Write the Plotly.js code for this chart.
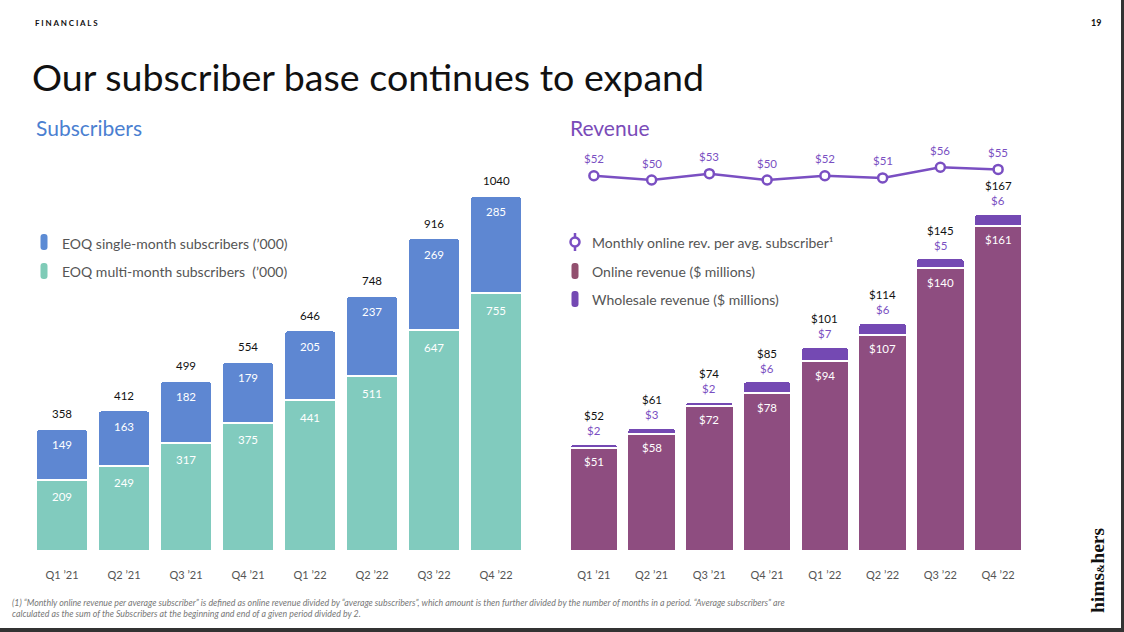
<!DOCTYPE html>
<html>
<head>
<meta charset="utf-8">
<script src="https://cdn.plot.ly/plotly-3.0.1.min.js"></script>
<style>
html,body{margin:0;padding:0;background:#fff;}
#chart{width:1124px;height:632px;}
</style>
</head>
<body>
<div id="chart"></div>
<script>
// ---- Data ----
const quarters = ["Q1 \u201921","Q2 \u201921","Q3 \u201921","Q4 \u201921","Q1 \u201922","Q2 \u201922","Q3 \u201922","Q4 \u201922"];
const multiMonth = [209, 249, 317, 375, 441, 511, 647, 755];
const singleMonth = [149, 163, 182, 179, 205, 237, 269, 285];
const subscriberTotals = [358, 412, 499, 554, 646, 748, 916, 1040];
const onlineRevenue = [51, 58, 72, 78, 94, 107, 140, 161];
const wholesaleRevenue = [2, 3, 2, 6, 7, 6, 5, 6];
const revenueTotals = [52, 61, 74, 85, 101, 114, 145, 167];
const revPerSub = [52, 50, 53, 50, 52, 51, 56, 55];

// ---- Styles ----
const FONT = "Lato, 'Open Sans', sans-serif";
const W = 1124, H = 632;
const px = v => v / W;
const py = v => 1 - v / H;
const BLUE = "#5e87d2", GREEN = "#81cbbe", ONLINE = "#8e4d80", WHOLESALE = "#7449b3", LINE = "#7a4fc2";

const traces = [
  {type:"bar", x:quarters, y:multiMonth, xaxis:"x", yaxis:"y", marker:{color:GREEN, line:{color:"#fff", width:2}}, hoverinfo:"skip"},
  {type:"bar", x:quarters, y:singleMonth, xaxis:"x", yaxis:"y", marker:{color:BLUE, line:{color:"#fff", width:2}}, hoverinfo:"skip"},
  {type:"bar", x:quarters, y:onlineRevenue, xaxis:"x2", yaxis:"y2", marker:{color:ONLINE, line:{color:"#fff", width:2}}, hoverinfo:"skip"},
  {type:"bar", x:quarters, y:wholesaleRevenue, xaxis:"x2", yaxis:"y2", marker:{color:WHOLESALE, line:{color:"#fff", width:2}}, hoverinfo:"skip"},
  {type:"scatter", mode:"lines+markers", x:quarters, y:revPerSub, xaxis:"x2", yaxis:"y3",
   line:{color:LINE, width:2.5}, marker:{size:9, color:"#fff", line:{color:LINE, width:2.5}}, hoverinfo:"skip"}
];

const annotations = [];
const lblFont = (c) => ({family:FONT, size:11.5, color:c});
quarters.forEach((q, i) => {
  annotations.push({xref:"x", yref:"y", x:q, y:subscriberTotals[i], yshift:15, text:String(subscriberTotals[i]), showarrow:false, font:lblFont("#111")});
  annotations.push({xref:"x", yref:"y", x:q, y:multiMonth[i]+singleMonth[i], yshift:-16, text:String(singleMonth[i]), showarrow:false, font:lblFont("#fff")});
  annotations.push({xref:"x", yref:"y", x:q, y:multiMonth[i], yshift:-17, text:String(multiMonth[i]), showarrow:false, font:lblFont("#fff")});
  const top = onlineRevenue[i] + wholesaleRevenue[i];
  annotations.push({xref:"x2", yref:"y2", x:q, y:top, yshift:28, text:"$"+revenueTotals[i], showarrow:false, font:lblFont("#111")});
  annotations.push({xref:"x2", yref:"y2", x:q, y:top, yshift:13, text:"$"+wholesaleRevenue[i], showarrow:false, font:lblFont(LINE)});
  annotations.push({xref:"x2", yref:"y2", x:q, y:onlineRevenue[i], yshift:-14, text:"$"+onlineRevenue[i], showarrow:false, font:lblFont("#fff")});
  annotations.push({xref:"x2", yref:"y3", x:q, y:revPerSub[i], yshift:17, text:"$"+revPerSub[i], showarrow:false, font:lblFont(LINE)});
});

// Page text
annotations.push(
  {xref:"paper", yref:"paper", x:px(33), y:py(23), xanchor:"left", yanchor:"middle", text:"<b>F I N A N C I A L S</b>", showarrow:false, font:{family:FONT, size:8, color:"#111"}},
  {xref:"paper", yref:"paper", x:px(1103), y:py(23), xanchor:"right", yanchor:"middle", text:"<b>19</b>", showarrow:false, font:{family:FONT, size:9, color:"#111"}},
  {xref:"paper", yref:"paper", x:px(30), y:py(77), xanchor:"left", yanchor:"middle", text:"Our subscriber base continues to expand", showarrow:false, font:{family:FONT, size:37.6, color:"#111"}},
  {xref:"paper", yref:"paper", x:px(34), y:py(128), xanchor:"left", yanchor:"middle", text:"Subscribers", showarrow:false, font:{family:FONT, size:21, color:"#4b7fd1"}},
  {xref:"paper", yref:"paper", x:px(568), y:py(128), xanchor:"left", yanchor:"middle", text:"Revenue", showarrow:false, font:{family:FONT, size:21, color:"#7a4bb8"}},
  {xref:"paper", yref:"paper", x:px(60), y:py(243), xanchor:"left", yanchor:"middle", text:"EOQ single-month subscribers (\u2019000)", showarrow:false, font:{family:FONT, size:14, color:"#555"}},
  {xref:"paper", yref:"paper", x:px(60), y:py(271), xanchor:"left", yanchor:"middle", text:"EOQ multi-month subscribers  (\u2019000)", showarrow:false, font:{family:FONT, size:14, color:"#555"}},
  {xref:"paper", yref:"paper", x:px(590), y:py(242), xanchor:"left", yanchor:"middle", text:"Monthly online rev. per avg. subscriber\u00B9", showarrow:false, font:{family:FONT, size:14, color:"#555"}},
  {xref:"paper", yref:"paper", x:px(590), y:py(271), xanchor:"left", yanchor:"middle", text:"Online revenue ($ millions)", showarrow:false, font:{family:FONT, size:14, color:"#555"}},
  {xref:"paper", yref:"paper", x:px(590), y:py(299), xanchor:"left", yanchor:"middle", text:"Wholesale revenue ($ millions)", showarrow:false, font:{family:FONT, size:14, color:"#555"}},
  {xref:"paper", yref:"paper", x:px(10), y:py(608), xanchor:"left", yanchor:"middle", align:"left",
   text:"<i>(1) \u201cMonthly online revenue per average subscriber\u201d is defined as online revenue divided by \u201caverage subscribers\u201d, which amount is then further divided by the number of months in a period. \u201cAverage subscribers\u201d are<br>calculated as the sum of the Subscribers at the beginning and end of a given period divided by 2.</i>",
   showarrow:false, font:{family:FONT, size:8.8, color:"#777"}},
  {xref:"paper", yref:"paper", x:px(1097), y:py(571), xanchor:"center", yanchor:"middle", textangle:-90, text:"<b>hims<span style='font-size:11px'>&amp;</span>hers</b>", showarrow:false, font:{family:"'Liberation Serif', serif", size:19.5, color:"#111"}}
);

const pill = "M-3.5,-5 Q-3.5,-8 -0.5,-8 L0.5,-8 Q3.5,-8 3.5,-5 L3.5,5 Q3.5,8 0.5,8 L-0.5,8 Q-3.5,8 -3.5,5 Z";
const pillShape = (x, y, c) => ({type:"path", xref:"paper", yref:"paper", xsizemode:"pixel", ysizemode:"pixel", xanchor:px(x), yanchor:py(y), path:pill, fillcolor:c, line:{width:0}});
const shapes = [
  pillShape(44, 242, "#5c8bd4"),
  pillShape(44, 271, "#7fcbb7"),
  pillShape(575, 271, "#92506f"),
  pillShape(575, 299, WHOLESALE),
  {type:"line", xref:"paper", yref:"paper", x0:px(575), x1:px(575), y0:py(233), y1:py(251), line:{color:LINE, width:2.5}},
  {type:"circle", xref:"paper", yref:"paper", xsizemode:"pixel", ysizemode:"pixel", xanchor:px(575), yanchor:py(242), x0:-4.5, x1:4.5, y0:-4.5, y1:4.5, fillcolor:"#fff", line:{color:LINE, width:2.5}},
  {type:"line", xref:"paper", yref:"paper", x0:1-1.5/W, x1:1-1.5/W, y0:0, y1:1, line:{color:"#333", width:3}},
  {type:"line", xref:"paper", yref:"paper", x0:0, x1:1, y0:2/H, y1:2/H, line:{color:"#333", width:4}}
];

const xCommon = {type:"category", showgrid:false, zeroline:false, showline:false, ticks:"outside", ticklen:14, tickcolor:"rgba(0,0,0,0)",
  tickfont:{family:FONT, size:11, color:"#555"}, fixedrange:true};
const layout = {
  width:W, height:H, margin:{l:0, r:0, t:0, b:0},
  paper_bgcolor:"#fff", plot_bgcolor:"rgba(0,0,0,0)",
  showlegend:false, barmode:"stack", bargap:0.16, barcornerradius:4,
  xaxis:Object.assign({}, xCommon, {domain:[px(31), px(527)], range:[-0.5, 7.5], anchor:"y"}),
  yaxis:{domain:[py(551), py(150)], range:[0, 1174], visible:false, fixedrange:true, anchor:"x"},
  xaxis2:Object.assign({}, xCommon, {domain:[px(565), px(1027)], range:[-0.5, 7.5], anchor:"y2"}),
  yaxis2:{domain:[py(551), py(150)], range:[0, 198.5], visible:false, fixedrange:true, anchor:"x2"},
  yaxis3:{domain:[py(200), py(140)], range:[40.57, 68.87], visible:false, fixedrange:true, anchor:"x2"},
  annotations:annotations, shapes:shapes
};
Plotly.newPlot("chart", traces, layout, {displayModeBar:false, staticPlot:true});
</script>
</body>
</html>
